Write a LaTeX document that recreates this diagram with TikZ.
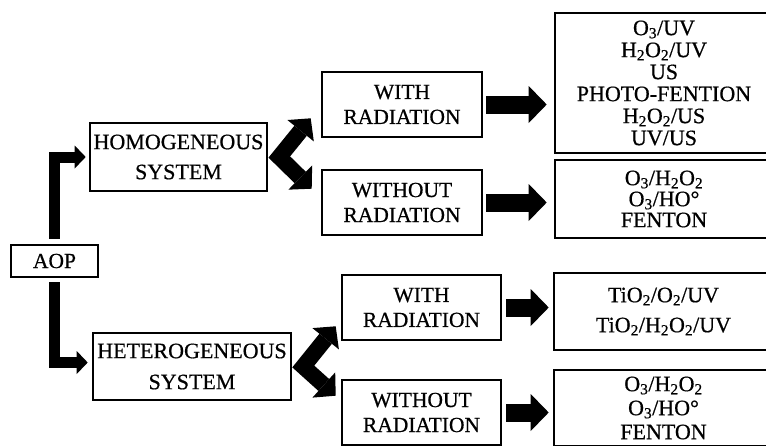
\documentclass[tikz,border=0pt]{standalone}
\usepackage{fontspec}
\setmainfont{Liberation Serif}[FakeBold=0.6]
\usetikzlibrary{arrows.meta}
\newcommand{\sbs}[1]{\textsubscript{#1}}
\newcommand{\fsz}[2]{\fontsize{#1}{#2}\selectfont}
\tikzset{box/.style={
  draw, line width=2.6pt, align=center, inner sep=0pt,
  font=\fsz{21.5}{25}
}}
\tikzset{fat/.style={
  line width=18pt,
  -{Triangle[length=18pt,width=37pt,line width=0pt]}
}}
\tikzset{bent/.style={
  line width=11pt, line join=miter,
  -{Triangle[length=11pt,width=23pt,line width=0pt]}
}}
\tikzset{fork/.style={
  line width=16pt, line join=miter,
  {Triangle[length=16pt,width=34pt,line width=0pt]}-{Triangle[length=16pt,width=34pt,line width=0pt]}
}}

\begin{document}
\begin{tikzpicture}[x=1pt,y=-1pt]
    \clip (0,0) rectangle (766,445);
    \node[box,minimum width=87,minimum height=32] (aop) at (54.5,261) {AOP};
    \node[box,minimum width=177,minimum height=68,font=\fsz{22}{30}] (homo) at (178.5,157)
      {HOMOGENEOUS\\SYSTEM};
    \node[box,minimum width=198,minimum height=67,font=\fsz{22}{31}] (hetero) at (192,366.5)
      {HETEROGENEOUS\\SYSTEM};
    % homogeneous branch
    \node[box,minimum width=160,minimum height=65] (wr1) at (402,104.5) {WITH\\RADIATION};
    \node[box,minimum width=160,minimum height=65] (wo1) at (402,202.5) {WITHOUT\\RADIATION};
    \node[box,minimum width=218,minimum height=140,font=\fsz{22}{22}] (res1) at (664,83)
      {O\sbs{3}/UV\\H\sbs{2}O\sbs{2}/UV\\US\\PHOTO-FENTION\\H\sbs{2}O\sbs{2}/US\\UV/US};
    \node[box,minimum width=218,minimum height=78,font=\fsz{22}{21}] (res2) at (664,199)
      {O\sbs{3}/H\sbs{2}O\sbs{2}\\O\sbs{3}/HO°\\FENTON};
    % heterogeneous branch
    \node[box,minimum width=159,minimum height=65] (wr2) at (421.5,307.5) {WITH\\RADIATION};
    \node[box,minimum width=159,minimum height=65] (wo2) at (421.5,412.5) {WITHOUT\\RADIATION};
    \node[box,minimum width=219,minimum height=77,font=\fsz{22}{30}] (res3) at (663.5,311.5)
      {TiO\sbs{2}/O\sbs{2}/UV\\TiO\sbs{2}/H\sbs{2}O\sbs{2}/UV};
    \node[box,minimum width=219,minimum height=76,font=\fsz{22}{24}] (res4) at (663.5,408)
      {O\sbs{3}/H\sbs{2}O\sbs{2}\\O\sbs{3}/HO°\\FENTON};
    % arrows
    \draw[bent,shorten <=5pt,shorten >=3pt] (aop.north) |- (homo.west);
    \draw[bent,shorten <=4pt,shorten >=4pt] (aop.south) |- ([yshift=4pt]hetero.west);
    \draw[fork] ([shift={(-10,-20)}]wr1.south west) -- ([xshift=11pt]homo.east)
      -- ([shift={(-9,20)}]wo1.north west);
    \draw[fork] ([shift={(-5,-15)}]wr2.south west) -- ([xshift=11pt]hetero.east)
      -- ([shift={(-5,17)}]wo2.north west);
    \draw[fat,shorten <=3pt,shorten >=7pt] (wr1.east) -- (wr1.east -| res1.west);
    \draw[fat,shorten <=3pt,shorten >=7pt] (wo1.east) -- (wo1.east -| res2.west);
    \draw[fat,shorten <=4pt,shorten >=4pt] (wr2.east) -- (wr2.east -| res3.west);
    \draw[fat,shorten <=4pt,shorten >=4pt] (wo2.east) -- (wo2.east -| res4.west);
\end{tikzpicture}
\end{document}
